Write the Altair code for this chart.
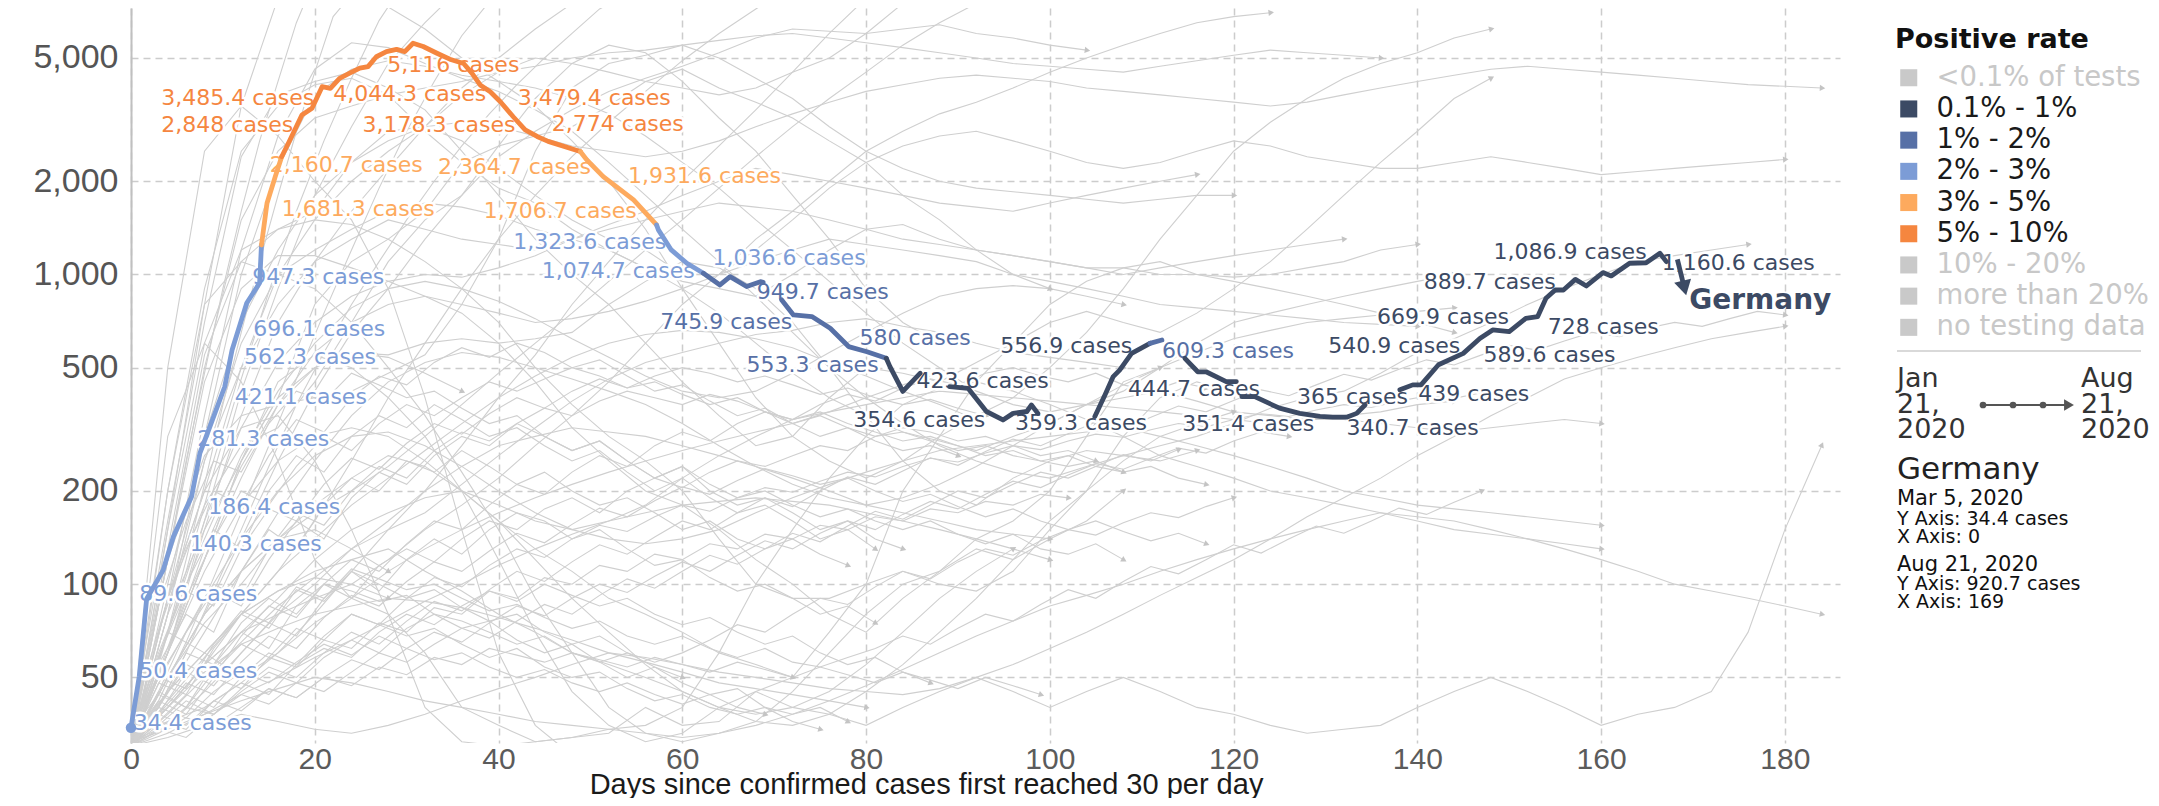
import math
import altair as alt
import pandas as pd

# ---------------- data ----------------
RATE_LABELS = ["<0.1% of tests", "0.1% - 1%", "1% - 2%", "2% - 3%", "3% - 5%",
               "5% - 10%", "10% - 20%", "more than 20%", "no testing data"]
RATE_COLORS = ["#c9c9c9", "#3c4a64", "#5770a6", "#7c9cd6", "#fdaa5e",
               "#f5863f", "#c9c9c9", "#c9c9c9", "#c9c9c9"]
ACTIVE_RATES = ["0.1% - 1%", "1% - 2%", "2% - 3%", "3% - 5%", "5% - 10%"]

X_TICKS = [0, 20, 40, 60, 80, 100, 120, 140, 160, 180]
Y_TICKS = [50, 100, 200, 500, 1000, 2000, 5000]
X_DOMAIN = [0, 186]
Y_DOMAIN = [30.7, 7250]

# Germany: continuous stretches of (day, 7-day average cases, positive-rate class index)
GERMANY_STRETCHES = [
    [(0, 34.4, 3), (0.9, 50.4, 3), (1.7, 89.6, 3), (3.5, 111, 3), (4.6, 142, 3), (6.6, 192, 3),
     (7.5, 265, 3), (8.6, 323, 3), (10.2, 434, 3), (11.0, 570, 3), (12.6, 809, 3), (14.0, 939, 3),
     (14.2, 1245, 3),
     (14.8, 1698, 4), (15.7, 2070, 4), (16.4, 2400, 4),
     (17.3, 2717, 5), (18.6, 3273, 5), (19.7, 3443, 5), (20.8, 4040, 5), (21.7, 3990, 5),
     (22.7, 4297, 5), (23.8, 4464, 5), (24.9, 4634, 5), (25.8, 4690, 5), (26.7, 5046, 5),
     (27.8, 5240, 5), (28.9, 5333, 5), (29.8, 5240, 5), (30.7, 5580, 5), (31.8, 5445, 5),
     (33.3, 5180, 5), (34.7, 4955, 5), (36.2, 4800, 5), (37.1, 4466, 5), (38.0, 4090, 5),
     (39.1, 3890, 5), (40.2, 3610, 5), (41.6, 3230, 5), (42.9, 2930, 5), (44.2, 2790, 5),
     (45.4, 2690, 5), (48.9, 2493, 5),
     (49.6, 2344, 4), (51.4, 2070, 4), (54.7, 1740, 4), (57.2, 1445, 4),
     (57.4, 1393, 3), (58.8, 1200, 3), (60.5, 1087, 3), (62.3, 1009, 3),
     (64.1, 925, 2), (65.2, 984, 2), (67.0, 914, 2), (68.5, 948, 2), (68.8, 943, 2)],
    [(70.8, 828, 2), (72.1, 740, 2), (74.1, 731, 2), (76.1, 670, 2), (78.1, 585, 2),
     (80.1, 563, 2), (82.2, 536, 2),
     (82.6, 504, 1), (84.0, 419, 1), (85.9, 480, 1)],
    [(89.1, 434, 1), (91.1, 429, 1), (93.1, 361, 1), (94.9, 339, 1), (96.0, 356, 1),
     (97.5, 361, 1), (98.0, 379, 1), (98.7, 356, 1)],
    [(104.9, 348, 1), (106.0, 408, 1), (106.9, 468, 1), (107.6, 491, 1), (108.9, 556, 1),
     (110.9, 599, 1), (112.2, 614, 2)],
    [(114.7, 536, 1), (116.1, 485, 1), (117.0, 485, 1), (119.2, 451, 1), (120.3, 451, 1)],
    [(120.9, 403, 1), (122.3, 403, 1), (125.0, 370, 1), (127.2, 356, 1), (129.4, 348, 1),
     (130.8, 346, 1), (132.3, 346, 1), (133.4, 356, 1), (134.3, 379, 1)],
    [(138.1, 424, 1), (139.5, 440, 1), (140.4, 440, 1), (142.3, 511, 1), (145.0, 556, 1),
     (146.8, 621, 1), (148.2, 662, 1), (150.0, 654, 1), (151.8, 721, 1), (153.1, 731, 1),
     (154.0, 838, 1), (155.0, 891, 1), (155.9, 891, 1), (157.2, 964, 1), (158.4, 918, 1),
     (160.2, 1014, 1), (161.1, 989, 1), (163.1, 1087, 1), (164.9, 1091, 1), (166.4, 1170, 1),
     (167.1, 1100, 1)],
]
GERMANY_ARROW_DAY = [168.3, 169]
GERMANY_ARROW_VAL = [1119, 920.7]

# point labels: (value text, day where the label sits, level where the label sits, class index)
LABELS = [
    ("3,485.4", 3.3, 3721, 5), ("2,848", 3.3, 3032, 5), ("4,044.3", 22.0, 3837, 5),
    ("5,116", 27.9, 4757, 5), ("3,178.3", 25.2, 3032, 5), ("3,479.4", 42.1, 3721, 5),
    ("2,774", 45.8, 3063, 5),
    ("2,160.7", 15.1, 2253, 4), ("1,681.3", 16.4, 1624, 4), ("2,364.7", 33.4, 2230, 4),
    ("1,706.7", 38.4, 1607, 4), ("1,931.6", 54.1, 2077, 4),
    ("1,323.6", 41.6, 1271, 3), ("1,074.7", 44.7, 1024, 3), ("947.3", 13.2, 981, 3),
    ("696.1", 13.3, 667, 3), ("562.3", 12.3, 541, 3), ("421.1", 11.3, 402, 3),
    ("281.3", 7.2, 294, 3), ("186.4", 8.4, 178, 3), ("140.3", 6.4, 135, 3),
    ("89.6", 0.9, 93, 3), ("50.4", 0.9, 52.4, 3), ("34.4", 0.3, 35.6, 3),
    ("1,036.6", 63.3, 1134, 3),
    ("949.7", 68.1, 879, 2), ("745.9", 57.6, 702, 2), ("580", 79.3, 623, 2),
    ("553.3", 67.0, 511, 2), ("609.3", 112.2, 566, 2),
    ("423.6", 85.5, 452, 1), ("354.6", 78.6, 339, 1), ("359.3", 96.2, 331, 1),
    ("556.9", 94.6, 589, 1), ("444.7", 108.5, 427, 1), ("351.4", 114.4, 329, 1),
    ("365", 126.9, 402, 1), ("340.7", 132.3, 319, 1), ("439", 140.1, 412, 1),
    ("540.9", 130.3, 589, 1), ("589.6", 147.2, 550, 1), ("669.9", 135.6, 729, 1),
    ("728", 154.2, 677, 1), ("889.7", 140.7, 946, 1), ("1,086.9", 148.3, 1182, 1),
    ("1,160.6", 166.6, 1089, 1),
]
COUNTRY_LABEL = ("Germany", 169.6, 818)

# other countries (grey): (day step)
BG_SERIES = [
    (2, [32, 60, 120, 250, 480, 900, 1600, 2700, 4200, 6500, 9000]),
    (2, [33, 45, 70, 120, 210, 380, 650, 1100, 1800, 2900, 4500, 6800, 8000]),
    (3, [30, 55, 110, 230, 460, 880, 1600, 2700, 4300, 6600, 9000]),
    (3, [32, 42, 65, 105, 170, 280, 460, 750, 1200, 1900, 2900, 4200, 5900, 7600]),
    (3, [30, 40, 60, 95, 150, 240, 380, 560, 800, 1100, 1500, 2000, 2600, 3300, 4100, 5000, 6000, 7200, 8000]),
    (4, [35, 90, 350, 1200, 2800, 4600, 5600, 5400, 4800, 4300, 3900, 3400, 2900, 2300, 1800, 1400, 1100, 850, 650, 500, 400, 330, 280, 250, 230, 220, 240, 260, 280, 300, 330, 370, 400, 420, 480, 560, 620, 700, 800, 900, 1000, 1100, 1150, 1200, 1250]),
    (4, [30, 150, 800, 3500, 7800, 8500, 8000, 7300, 6200, 5000, 4200, 3500, 2700, 2000, 1400, 900, 600, 400, 300, 250, 220, 250, 300, 350, 400, 500, 650, 900, 1300, 1800, 2500, 3100, 3700, 4300, 4800, 5200, 5800, 6200]),
    (4, [34, 160, 700, 2400, 3800, 4200, 4500, 4000, 3400, 2500, 1800, 1300, 1000, 800, 600, 450, 350, 280, 300, 400, 500, 480, 450, 520, 600, 700, 760, 700, 650, 750, 900, 1100, 1400, 1800, 2300, 2900, 3700, 4300]),
    (4, [30, 80, 300, 1000, 2200, 3800, 4600, 4900, 4700, 4400, 4200, 4000, 3700, 3300, 2800, 2300, 1900, 1500, 1200, 950, 750, 600, 500, 420, 380, 360, 380, 420, 500, 600, 700, 750, 800, 850, 900, 950, 1000]),
    (4, [32, 60, 150, 350, 700, 1100, 1600, 2200, 3000, 4000, 5000, 6200, 7500, 9000]),
    (4, [30, 40, 55, 80, 110, 160, 250, 400, 600, 900, 1300, 1800, 2400, 3100, 3900, 4900, 6000, 7200, 8500]),
    (4, [31, 60, 160, 420, 900, 1800, 3000, 4800, 6500, 8500]),
    (4, [33, 130, 550, 1100, 1400, 1600, 2300, 2900, 3000, 2700, 2200, 1800, 1500, 1300, 1200, 1000, 1000, 1200, 1500, 1900, 2300, 2600, 2800, 2900, 2700, 2500, 2300, 2200, 2300, 2500, 2700, 2600, 2400, 2300, 2200, 2200, 2300, 2400, 2300, 2200, 2100, 2150, 2200, 2250, 2300, 2350]),
    (4, [30, 200, 900, 2500, 3500, 4100, 4300, 3800, 2900, 2300, 1900, 1700, 1400, 1200, 1050, 950, 900, 850, 1000, 1200, 1400, 1450, 1300, 1200, 1150, 1100, 1050, 1050, 1000, 1000, 980, 1000, 1050, 1100, 1200, 1250]),
    (4, [30, 80, 250, 600, 1000, 1200, 1400, 1600, 1700, 1650, 1550, 1400, 1300, 1200, 1050, 900, 750, 600, 480, 400, 350, 310, 290, 270, 300, 330, 380, 400, 420, 390, 360, 350, 340, 340, 330, 320, 310, 320, 330, 340, 330]),
    (4, [31, 150, 600, 1200, 1400, 1500, 1450, 1300, 1100, 900, 700, 500, 380, 300, 250, 200, 140, 100, 90, 90, 100, 110, 100, 95, 110, 150, 200, 300, 400, 450, 420]),
    (4, [34, 120, 450, 900, 1150, 1150, 1050, 950, 850, 750, 600, 450, 320, 250, 200, 180, 150, 120, 100, 80, 70, 90, 110, 140, 160, 200, 300, 450, 500]),
    (4, [33, 200, 800, 1100, 1000, 900, 700, 500, 350, 230, 150, 90, 60, 40, 33, 31, 33, 36, 45, 60, 80, 100, 110, 130, 120, 140, 160, 200]),
    (4, [30, 60, 120, 250, 400, 500, 560, 550, 600, 620, 600, 620, 650, 800, 950, 1100, 1050, 900, 700, 500, 350, 250, 200, 180, 220, 250, 270, 260, 250, 270]),
    (4, [30, 50, 80, 140, 250, 420, 650, 900, 1300, 1800, 2400, 2900, 3400, 3900, 4300, 4700, 5200, 5800, 6200, 6100, 6000, 6200, 6400, 6000, 5800, 5500, 5300]),
    (4, [31, 90, 200, 500, 1000, 1500, 2000, 2500, 3000, 3800, 4500, 5000, 4800, 4500, 4200, 4000, 3800, 4000, 4500, 5000, 6000, 7500]),
    (4, [32, 120, 260, 350, 380, 400, 420, 480, 550, 800, 1300, 2500, 4000, 4800, 5100, 5500, 5000, 4300, 3700, 3000, 2500, 2200, 2000, 1900, 1850, 1800, 1750, 1700, 1750, 1800, 1800]),
    (4, [30, 80, 150, 250, 400, 800, 1100, 1300, 1600, 2300, 2600, 2800, 3000, 3500, 4200, 4600, 4000, 3600, 3200, 2700, 2300, 1800, 1500, 1200, 1000, 900]),
    (4, [31, 90, 180, 280, 320, 450, 700, 1100, 1500, 1800, 2600, 3700, 4800, 5500, 5200, 4200, 3200, 2500, 1800, 1300, 900, 700, 600]),
    (4, [30, 500, 2500, 3500, 2800, 2000, 1500, 900, 400, 150, 60, 35, 28]),
    (4, [32, 300, 600, 450, 250, 120, 90, 80, 60, 40, 35, 31, 32, 33, 40, 35, 36, 45, 40, 38, 35, 40, 45, 50, 45, 40, 45, 50, 45, 40, 38, 35, 33, 34, 35, 40, 45, 50, 45, 40, 35, 38, 40, 45, 70, 150, 280]),
    (4, [31, 60, 120, 250, 450, 550, 500, 400, 300, 200, 120, 70, 45, 35, 31, 33, 40, 45, 50, 70, 100, 200, 300, 450, 600, 800, 950, 1050, 1100, 1000, 950, 900, 850, 800, 750, 700, 650]),
    (4, [30, 90, 200, 320, 350, 250, 150, 80, 40, 31, 30, 31, 32, 34, 35, 40, 60, 100, 150, 220, 300, 380, 430, 450, 420, 380, 340, 300, 260, 240, 220, 200, 190, 180, 170, 160, 150, 145, 140, 135, 130]),
    (4, [30, 40, 55, 70, 80, 90, 100, 120, 150, 180, 220, 280, 350, 450, 600, 800, 1000, 1300, 1600, 2000, 2500, 2900, 3300, 3600, 4000, 4500, 5000, 5500, 6000, 6500, 6800, 7000]),
    (4, [30, 50, 80, 110, 140, 170, 200, 240, 300, 380, 480, 600, 750, 950, 1200, 1500, 1900, 2400, 3000, 3700, 4500, 5500, 6500, 7500, 8500, 9500]),
    (4, [31, 70, 60, 50, 60, 80, 110, 150, 200, 280, 400, 550, 800, 1100, 1500, 2000, 2600, 3400, 4500, 6000, 7800, 9500]),
    (4, [30, 45, 60, 80, 95, 110, 120, 130, 110, 95, 80, 70, 60, 55, 50, 45, 40, 38, 40, 45, 55, 70, 90, 110, 130]),
    (4, [32, 40, 55, 70, 90, 120, 150, 170, 190, 200, 180, 160, 150, 160, 180, 220, 260, 300, 340, 360, 380, 400, 420, 410, 400, 390, 380, 370, 360, 350, 340, 330, 340, 350, 360, 380, 390]),
    (4, [30, 35, 45, 60, 80, 100, 130, 160, 200, 240, 280, 300, 320, 310, 300, 280, 260, 240, 220, 200, 180, 170, 160, 150, 145, 140]),
    (4, [31, 50, 75, 100, 140, 180, 220, 260, 240, 200, 160, 130, 110, 90, 80, 70, 60, 55, 50]),
    (4, [30, 38, 50, 65, 85, 105, 130, 150, 170, 210, 260, 320, 390, 460, 520, 560, 600, 640, 660, 700, 720, 680, 650, 600, 560, 540, 520, 500]),
    (4, [33, 60, 110, 180, 250, 300, 320, 300, 250, 200, 160, 120, 90, 70, 55, 45, 40, 36, 35, 38, 45, 55, 70, 90, 120, 160, 200, 250, 300, 330, 360]),
    (4, [30, 42, 58, 80, 110, 140, 180, 220, 270, 330, 400, 470, 540, 600, 640, 660, 650, 620, 580, 520, 470, 420, 380, 340]),
    (4, [32, 36, 40, 48, 60, 75, 90, 110, 130, 150, 170, 190, 210, 230, 250, 270, 290, 310, 330, 360, 400, 440, 480]),
    (4, [31, 45, 70, 110, 170, 250, 350, 450, 520, 560, 540, 500, 460, 420, 380, 330, 280, 240, 210, 190, 180, 190, 210, 240, 280, 330, 380, 440, 500, 560, 620, 660, 700, 720, 740, 760, 780]),
    (4, [30, 40, 52, 64, 72, 80, 85, 90, 88, 84, 78, 72, 66, 60, 56, 52, 48, 46, 44, 42, 40]),
    (4, [34, 70, 140, 260, 420, 600, 780, 900, 950, 900, 820, 720, 620, 540, 470, 420, 400, 420, 480, 560, 650, 750, 850, 900, 920, 900, 850, 800]),
    (4, [30, 33, 38, 44, 50, 58, 66, 76, 88, 100, 115, 130, 145, 160, 170, 180, 185, 190, 185, 180, 170, 160, 150, 140, 130, 120]),
    (4, [31, 55, 90, 140, 200, 260, 300, 310, 280, 240, 200, 170, 150, 140, 135, 140, 150, 170, 190, 210, 230, 250, 270, 280, 290, 300, 310, 320, 300, 280, 260, 240, 220, 200, 190, 180, 175, 170, 165, 160, 155]),
    (4, [30, 50, 80, 110, 140, 150, 130, 110]),
    (4, [32, 45, 60, 80, 95, 105, 100, 90]),
    (4, [30, 60, 130, 240, 380, 500, 560, 540, 480, 420]),
    (4, [30, 32, 35, 38, 36, 34, 33, 35, 38, 42, 46, 50, 55, 60, 58, 55, 52, 50, 48, 46, 45, 44, 46, 50, 55, 62, 70, 80, 92, 105, 120, 140, 165, 190, 220, 260, 300, 350, 400, 460, 500, 540, 580, 620, 650, 680]),
    (4, [31, 34, 38, 42, 46, 50, 48, 45, 42, 40, 38, 36, 35, 34, 33, 32, 33, 35, 38, 42, 47, 53, 60, 68, 76, 85, 92, 100, 110, 120, 130, 140, 150, 160, 170, 165, 160, 150, 140, 130, 120, 110, 100, 95, 90, 85, 80]),
    (4, [30, 120, 500, 1500, 2500, 3200, 3500, 3800, 4000, 4200, 4500, 4700, 5000, 5200, 5300, 5500, 5700, 5900, 6000, 5800, 5600, 5400, 5200, 5000, 4800, 4700, 4600, 4500, 4700, 4900, 5100, 5300, 5200, 5100, 5000]),
    (4, [30, 100, 300, 700, 1200, 1800, 2300, 2700, 3000, 3100, 3000, 2800, 2600, 2500, 2400, 2500, 2700, 3000, 3300, 3600, 3900, 4100, 4300, 4400, 4300, 4200, 4000, 3900, 3800, 3700, 3600, 3500, 3600, 3800, 4000, 4200, 4400, 4600, 4700, 4600, 4500, 4400, 4300, 4200, 4100, 4050, 4000]),
    (4, [30, 90, 250, 500, 800, 1100, 1300, 1500, 1400, 1300, 1250, 1200, 1300, 1400, 1500, 1600, 1700, 1650, 1600, 1500, 1400, 1300, 1250, 1200, 1150, 1100, 1050, 1000, 1050, 1100, 1150, 1200, 1250, 1300]),
    (4, [31, 70, 160, 320, 520, 700, 850, 950, 1000, 980, 1050, 1150, 1300, 1450, 1600, 1800, 2000, 2200, 2100, 2000, 1900, 1800, 1700, 1650, 1600, 1700, 1800, 1900, 2000, 2100]),
    (4, [30, 60, 120, 220, 380, 560, 700, 800, 850, 800, 750, 700, 720, 760, 820, 900, 1000, 1100, 1200, 1300, 1250, 1200, 1150, 1100, 1000, 950, 900, 850, 800, 780, 760, 740, 720, 700, 690, 680]),
    (3, [30, 38, 52, 47, 60, 75, 68, 90, 110, 95, 120, 140, 125, 150, 170, 160, 140, 150, 130, 115, 120, 105, 95, 100, 90, 80, 85, 75]),
    (3, [31, 45, 40, 55, 70, 62, 85, 100, 90, 115, 130, 118, 140, 160, 150, 175, 190, 170, 200, 220, 205, 230, 250, 240, 260, 280, 270, 300, 320, 310, 290, 300, 280, 260, 270, 250]),
    (3, [32, 36, 34, 42, 48, 44, 55, 62, 58, 70, 80, 74, 85, 95, 88, 100, 92, 85, 90, 80, 74, 78, 70, 64, 68, 60, 55, 58, 52, 48]),
    (3, [30, 55, 80, 70, 110, 150, 130, 180, 220, 200, 250, 230, 270, 240, 210, 230, 200, 180, 190, 170, 150, 160, 140, 130, 140, 125, 115]),
    (3, [33, 40, 60, 55, 75, 90, 80, 100, 120, 110, 135, 160, 150, 180, 210, 195, 230, 260, 240, 280, 310, 290, 330, 360, 340, 380, 410, 390, 430, 460, 440, 480, 500, 470, 450, 480, 440, 420, 450, 430]),
    (3, [30, 34, 40, 38, 45, 52, 48, 58, 66, 60, 72, 80, 76, 70, 64, 68, 60, 56, 60, 54, 50]),
    (3, [31, 50, 70, 95, 85, 120, 160, 140, 190, 230, 210, 260, 300, 280, 330, 370, 350, 390, 420, 400, 380, 410, 390, 360, 340, 360, 330, 310, 290, 300, 280, 260, 270, 250, 240, 250, 230]),
    (3, [30, 42, 38, 50, 46, 58, 54, 66, 62, 75, 70, 84, 80, 95, 90, 105, 100, 115, 110, 125, 120, 135, 130, 145, 140, 155, 150, 165, 160, 175, 170, 185, 180, 195, 190]),
    (3, [32, 60, 100, 150, 130, 200, 260, 230, 300, 350, 320, 380, 340, 300, 320, 280, 250, 270, 230, 200, 220, 190, 170, 180, 160, 140, 150, 130]),
    (3, [30, 36, 44, 40, 50, 60, 55, 68, 80, 74, 90, 105, 98, 115, 130, 122, 140, 155, 148, 165, 180, 172, 190, 205, 198, 215, 230, 222, 240, 255, 248, 265, 280, 272, 290, 305, 298, 315, 330, 322, 340, 355, 348, 365, 380, 372, 390, 405, 398, 415]),
    (3, [31, 40, 55, 50, 68, 85, 78, 100, 95, 88, 92, 80, 72, 76, 66, 60, 64, 56, 50, 54, 48, 44, 46, 40, 38, 40, 36]),
    (3, [30, 70, 130, 200, 180, 260, 340, 310, 400, 470, 440, 520, 580, 540, 600, 560, 500, 530, 470, 420, 440, 390, 350, 370, 330, 300, 320, 290, 270, 280, 260]),
    (3, [34, 44, 40, 52, 64, 58, 72, 66, 80, 74, 68, 72, 64, 58, 62, 54, 50, 52, 46, 42, 44, 40, 38, 40, 36, 34]),
    (3, [30, 33, 37, 35, 40, 46, 43, 50, 57, 53, 62, 70, 65, 75, 85, 79, 90, 100, 94, 106, 118, 110, 124, 138, 130, 146, 160, 150, 168, 185, 175, 195, 215, 205, 225, 245, 235, 255, 275, 265, 290, 310, 300]),
    (3, [31, 48, 44, 62, 80, 72, 96, 88, 110, 100, 90, 96, 84, 76, 80, 70, 64, 68, 60, 56, 60, 66, 74, 70, 80, 90, 86, 98, 110, 104, 118, 130, 124, 138, 150, 144, 158, 170, 164, 178, 190]),
    (3, [30, 52, 90, 140, 200, 180, 240, 300, 270, 330, 380, 350, 400, 450, 420, 460, 500, 470, 430, 450, 410, 380, 400, 360, 330, 350, 320, 300, 310, 290, 270, 280, 260, 250, 260, 240, 230, 240, 220, 210]),
    (3, [32, 38, 35, 42, 39, 46, 43, 50, 47, 54, 51, 58, 55, 62, 59, 56, 60, 57, 54, 58, 55, 52, 56, 53, 50, 54, 51, 48, 52, 49, 46, 50, 47, 44]),
    (3, [30, 45, 70, 100, 90, 130, 170, 155, 200, 240, 220, 270, 310, 290, 330, 300, 270, 290, 250, 220, 240, 210, 190, 200, 180, 165, 175, 160, 150, 160, 145, 135, 145, 130, 125, 135, 120]),
    (3, [31, 34, 32, 38, 44, 41, 48, 45, 52, 60, 56, 64, 72, 67, 76, 86, 80, 92, 104, 97, 110, 124, 116, 130, 146, 137, 154, 172, 162, 180, 200, 190, 210, 230, 220, 240, 262, 250, 272]),
    (3, [30, 85, 160, 250, 230, 330, 420, 390, 480, 440, 400, 420, 370, 330, 350, 300, 270, 290, 250, 220, 240, 200, 180, 190, 170, 150, 160, 140, 130]),
    (3, [33, 40, 37, 45, 52, 48, 56, 64, 59, 68, 62, 57, 60, 54, 50, 53, 48, 45, 48, 44, 41, 44, 40, 38]),
    (3, [30, 38, 48, 44, 56, 68, 62, 78, 92, 85, 102, 118, 110, 128, 146, 136, 156, 176, 165, 186, 206, 195, 216, 236, 224, 210, 220, 200, 185, 195, 178, 165, 175, 160, 150, 160, 148, 138, 146, 135]),
    (3, [31, 58, 95, 85, 130, 175, 160, 210, 255, 235, 285, 330, 305, 355, 400, 370, 420, 460, 430, 470, 500, 480, 450, 470, 440, 410, 430, 400, 380, 395, 370, 350]),
    (3, [30, 35, 42, 38, 46, 54, 50, 60, 70, 64, 76, 88, 82, 96, 110, 102, 118, 134, 125, 142, 160, 150, 170, 190, 178, 200, 222, 210, 232, 256, 242, 268, 294, 280, 306, 334, 318, 346, 376, 360, 392, 424, 406, 440, 476, 456, 494, 530, 510, 550, 590, 570, 610, 650, 630, 670, 700, 680, 720, 760, 740]),
    (3, [32, 50, 46, 64, 82, 75, 98, 90, 112, 104, 96, 100, 90, 82, 86, 78, 72, 76, 68, 64, 68, 62, 58, 62, 56, 54, 58, 62, 68, 64, 72, 80, 76, 86, 96, 90, 102, 114, 108, 120, 134, 126, 140, 154, 146, 160, 176, 168, 184, 200]),
]

# ---------------- tables ----------------
PLOT_W, PLOT_H = 1709, 735
PX_DAY = PLOT_W / (X_DOMAIN[1] - X_DOMAIN[0])
PX_DECADE = PLOT_H / math.log10(Y_DOMAIN[1] / Y_DOMAIN[0])


def heading(d0, v0, d1, v1):
    """screen direction (degrees clockwise from up) of the last segment of a line"""
    dx = (d1 - d0) * PX_DAY
    dy = -(math.log10(v1) - math.log10(v0)) * PX_DECADE
    return math.degrees(math.atan2(dx, -dy)) % 360


bg_rows, bg_ends = [], []
for k, (step, vals) in enumerate(BG_SERIES):
    for i, v in enumerate(vals):
        bg_rows.append({"s": k, "day": i * step, "v": v})
    n = len(vals) - 1
    if Y_DOMAIN[0] <= vals[-1] <= Y_DOMAIN[1]:
        bg_ends.append({"day": n * step, "v": vals[-1],
                        "ang": heading((n - 1) * step, vals[-2], n * step, vals[-1])})
bg_df = pd.DataFrame(bg_rows)
bg_end_df = pd.DataFrame(bg_ends)

ger_rows = []
seg = 0
for stretch in GERMANY_STRETCHES:
    seg += 1
    prev = None
    for d, v, r in stretch:
        if prev is not None and r != prev[2]:
            seg += 1
            ger_rows.append({"seg": seg, "day": prev[0], "v": prev[1], "hex": RATE_COLORS[r]})
        ger_rows.append({"seg": seg, "day": d, "v": v, "hex": RATE_COLORS[r]})
        prev = (d, v, r)
ger_df = pd.DataFrame(ger_rows)

lab_df = pd.DataFrame({
    "day": [l[1] for l in LABELS],
    "v": [l[2] for l in LABELS],
    "text": [l[0] + " cases" for l in LABELS],
    "rate": [RATE_LABELS[l[3]] for l in LABELS],
})
arrow_df = pd.DataFrame({"day": GERMANY_ARROW_DAY, "v": GERMANY_ARROW_VAL})
tip_df = pd.DataFrame({"day": [GERMANY_ARROW_DAY[-1]], "v": [GERMANY_ARROW_VAL[-1]],
                       "ang": [heading(GERMANY_ARROW_DAY[0], GERMANY_ARROW_VAL[0],
                                       GERMANY_ARROW_DAY[1], GERMANY_ARROW_VAL[1])]})
start_df = pd.DataFrame({"day": [GERMANY_STRETCHES[0][0][0]], "v": [GERMANY_STRETCHES[0][0][1]]})
name_df = pd.DataFrame({"day": [COUNTRY_LABEL[1]], "v": [COUNTRY_LABEL[2]], "text": [COUNTRY_LABEL[0]]})
one = pd.DataFrame({"a": [0]})

# ---------------- chart ----------------
NAVY = RATE_COLORS[1]
GRID = dict(grid=True, gridColor="#cccccc", gridDash=[7, 5], gridWidth=1.5)

x_axis = alt.Axis(values=X_TICKS, title="Days since confirmed cases first reached 30 per day",
                  domain=False, ticks=False, labelFont="Liberation Sans", labelFontSize=30,
                  labelColor="#5b5b5b", labelPadding=1, labelFlush=False,
                  titleFont="Liberation Sans", titleFontSize=29, titleFontWeight="normal",
                  titleColor="#1a1a1a", titleX=795, titleY=50, titleBaseline="alphabetic",
                  titleAlign="center", **GRID)
y_axis = alt.Axis(values=Y_TICKS, format=",", title=None, domain=True, domainColor="#c0c0c0",
                  domainWidth=2, ticks=False, labelFont="Liberation Sans", labelFontSize=34,
                  labelColor="#555555", labelPadding=13, **GRID)

X = alt.X("day:Q", scale=alt.Scale(domain=X_DOMAIN, nice=False, zero=False), axis=x_axis)
Y = alt.Y("v:Q", scale=alt.Scale(type="log", domain=Y_DOMAIN, nice=False), axis=y_axis)

active_js = "[" + ",".join("'" + a + "'" for a in ACTIVE_RATES) + "]"
legend = alt.Legend(
    title="Positive rate", orient="none", legendX=1764, legendY=19, direction="vertical",
    symbolType="square", symbolSize=290, symbolStrokeWidth=0, symbolOpacity=1,
    titleFont="DejaVu Sans", titleFontSize=27, titleFontWeight="bold", titleColor="#111111",
    titlePadding=10, titleLimit=500, labelFont="DejaVu Sans", labelFontSize=27.5,
    labelColor=alt.ExprRef(expr="indexof(" + active_js + ", datum.label) >= 0 ? '#1a1a1a' : '#c8c8c8'"),
    labelOffset=14, rowPadding=2.2, padding=0, labelLimit=500,
)

bg = alt.Chart(bg_df).mark_line(color="#cfcfcf", strokeWidth=1.1, clip=True).encode(
    x=X, y=Y, detail="s:N")
bg_tips = alt.Chart(bg_end_df).mark_point(shape="triangle", filled=True, size=40, color="#c4c4c4",
                                          opacity=1, clip=True).encode(
    x=X, y=Y, angle=alt.Angle("ang:Q", scale=None))
halo = alt.Chart(lab_df).mark_text(align="left", baseline="middle", font="DejaVu Sans", fontSize=22,
                                   color="white", stroke="white", strokeWidth=5,
                                   strokeJoin="round").encode(x=X, y=Y, text="text:N")
labels = alt.Chart(lab_df).mark_text(align="left", baseline="middle", font="DejaVu Sans",
                                     fontSize=22).encode(
    x=X, y=Y, text="text:N",
    color=alt.Color("rate:N", scale=alt.Scale(domain=RATE_LABELS, range=RATE_COLORS), legend=legend))
ger = alt.Chart(ger_df).mark_line(strokeWidth=4.8, strokeJoin="round", strokeCap="round").encode(
    x=X, y=Y, detail="seg:N", stroke=alt.Stroke("hex:N", scale=None))
start_dot = alt.Chart(start_df).mark_circle(size=110, color=RATE_COLORS[3], opacity=1).encode(x=X, y=Y)
arrow_line = alt.Chart(arrow_df).mark_line(strokeWidth=4.8, color=NAVY).encode(x=X, y=Y)
arrow_head = alt.Chart(tip_df).mark_point(shape="triangle", size=300, filled=True,
                                          color=NAVY, opacity=1).encode(
    x=X, y=Y, angle=alt.Angle("ang:Q", scale=None))
name = alt.Chart(name_df).mark_text(align="left", baseline="middle", font="DejaVu Sans", fontSize=28,
                                    fontWeight="bold", color=NAVY).encode(x=X, y=Y, text="text:N")


def note(txt, x, y, size, weight="normal", color="#222222"):
    return alt.Chart(one).mark_text(align="left", baseline="middle", font="DejaVu Sans",
                                    fontSize=size, fontWeight=weight, color=color).encode(
        x=alt.value(x), y=alt.value(y), text=alt.value(txt))


def dot(x, y, shape="circle", size=45):
    return alt.Chart(one).mark_point(shape=shape, filled=True, size=size, color="#555555",
                                     opacity=1).encode(x=alt.value(x), y=alt.value(y))


LX = 1766
AX = 1950
notes = [
    alt.Chart(one).mark_rule(color="#cccccc", strokeWidth=1.5).encode(
        x=alt.value(LX), x2=alt.value(2010), y=alt.value(343)),
    note("Jan", LX, 371, 27, color="#333333"), note("21,", LX, 397, 27, color="#333333"),
    note("2020", LX, 422, 27, color="#333333"),
    note("Aug", AX, 371, 27, color="#333333"), note("21,", AX, 397, 27, color="#333333"),
    note("2020", AX, 422, 27, color="#333333"),
    alt.Chart(one).mark_rule(color="#555555", strokeWidth=2).encode(
        x=alt.value(1852), x2=alt.value(1936), y=alt.value(397)),
    dot(1852, 397), dot(1882, 397), dot(1912, 397),
    dot(1938, 397, shape="triangle-right", size=130),
    note("Germany", LX, 462, 31, color="#222222"),
    note("Mar 5, 2020", LX, 491, 21, color="#111111"),
    note("Y Axis: 34.4 cases", LX, 511, 19, color="#111111"),
    note("X Axis: 0", LX, 529, 19, color="#111111"),
    note("Aug 21, 2020", LX, 557, 21, color="#111111"),
    note("Y Axis: 920.7 cases", LX, 576, 19, color="#111111"),
    note("X Axis: 169", LX, 594, 19, color="#111111"),
]

chart = alt.layer(bg, bg_tips, halo, labels, ger, start_dot, arrow_line, arrow_head, name,
                  *notes).properties(
    width=PLOT_W, height=PLOT_H,
    padding={"left": 123, "top": 0, "right": 311, "bottom": 55},
    autosize=alt.AutoSizeParams(type="none"),
).configure_view(stroke=None)

chart.save("out.html", embed_options={"renderer": "svg", "actions": False})
